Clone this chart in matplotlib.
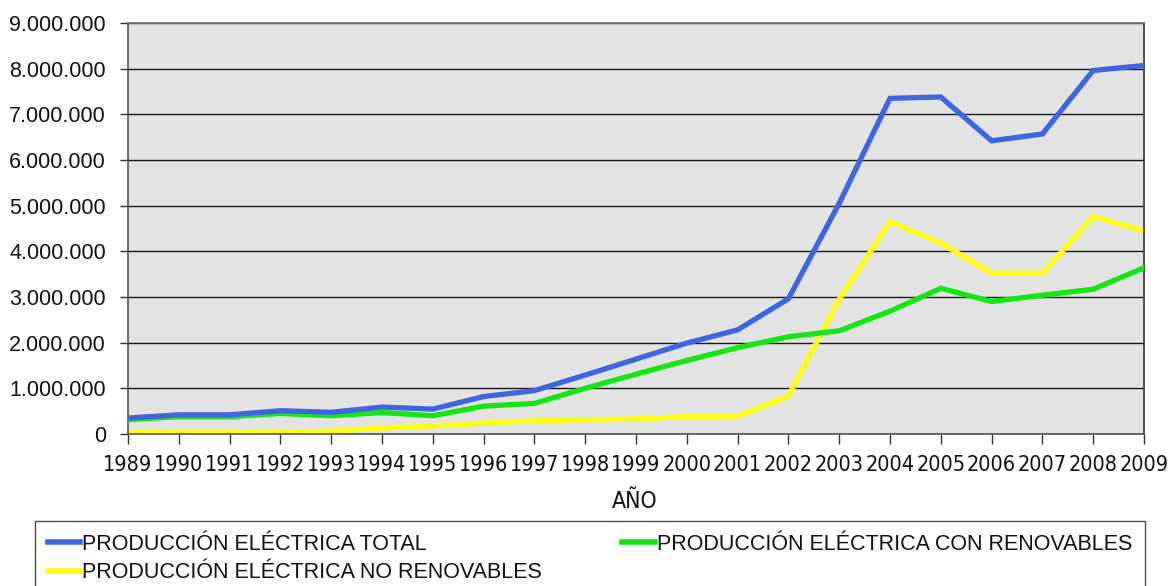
import matplotlib
matplotlib.use("Agg")
import matplotlib.pyplot as plt
from matplotlib import font_manager
from matplotlib.font_manager import FontProperties
from matplotlib.ticker import FuncFormatter, MultipleLocator

years = list(range(1989, 2010))

produccion_total = [350000, 420000, 420000, 510000, 475000, 590000, 545000,
                    820000, 950000, 1290000, 1640000, 1990000, 2280000, 2960000,
                    5050000, 7350000, 7380000, 6420000, 6570000, 7960000, 8070000]

produccion_renovables = [315000, 380000, 380000, 450000, 400000, 470000, 400000,
                         610000, 670000, 1000000, 1310000, 1610000, 1890000, 2130000,
                         2260000, 2690000, 3190000, 2900000, 3040000, 3170000, 3640000]

produccion_no_renovables = [30000, 30000, 30000, 40000, 60000, 130000, 175000,
                            240000, 290000, 310000, 330000, 380000, 390000, 830000,
                            2950000, 4650000, 4180000, 3520000, 3520000, 4760000, 4450000]

series_labels = ["PRODUCCIÓN ELÉCTRICA TOTAL",
                 "PRODUCCIÓN ELÉCTRICA CON RENOVABLES",
                 "PRODUCCIÓN ELÉCTRICA NO RENOVABLES"]
series_colors = ["#3F66E0", "#14E614", "#FFFF14"]

x_label = "AÑO"

REG = ["Liberation Sans", "DejaVu Sans"]


def narrow_font(size_narrow, size_cond, size_reg):
    """Pick a narrow sans face for the year labels, if one is installed."""
    fonts = font_manager.fontManager.ttflist
    for f in fonts:
        if f.name == "Liberation Sans Narrow" and "bold" not in f.fname.lower() \
                and "italic" not in f.fname.lower():
            return FontProperties(fname=f.fname, size=size_narrow)
    for f in fonts:
        fn = f.fname.lower()
        if "dejavusanscondensed.ttf" in fn:
            return FontProperties(fname=f.fname, size=size_cond)
    return FontProperties(family=REG, size=size_reg)


year_font = narrow_font(17, 15.5, 14.2)
title_font = narrow_font(17, 16.5, 15)

W, H = 1168, 586
fig = plt.figure(figsize=(W / 100, H / 100), dpi=100)
fig.patch.set_facecolor("white")

left, right, top, bottom = 128, 1144, 23, 434
ax = fig.add_axes([left / W, 1 - bottom / H, (right - left) / W, (bottom - top) / H])
ax.set_facecolor("#E3E3E3")

h_total, = ax.plot(years, produccion_total, color=series_colors[0], lw=3.8,
                   solid_joinstyle="miter", zorder=4)
h_ren, = ax.plot(years, produccion_renovables, color=series_colors[1], lw=3.8,
                 solid_joinstyle="miter", zorder=3)
h_nor, = ax.plot(years, produccion_no_renovables, color=series_colors[2], lw=3.8,
                 solid_joinstyle="miter", zorder=2)

ax.set_xlim(1989, 2009)
ax.set_ylim(0, 9000000)
ax.yaxis.set_major_locator(MultipleLocator(1000000))
ax.set_xticks(years)
ax.set_xticklabels([str(y) for y in years], fontproperties=year_font)
ax.yaxis.set_major_formatter(FuncFormatter(lambda v, p: f"{int(v):,}".replace(",", ".")))
for lab in ax.get_yticklabels():
    lab.set_family(REG)
    lab.set_fontsize(15.5)

ax.grid(axis="y", color="#1a1a1a", lw=1.0, zorder=1)
ax.set_axisbelow(True)
ax.tick_params(axis="x", direction="out", length=7, width=1, color="#333333", pad=8,
               labelcolor="#111111")
ax.tick_params(axis="y", direction="out", length=6, width=1, color="#333333", pad=10,
               labelcolor="#111111")

ax.spines["left"].set_color("#555555")
ax.spines["bottom"].set_color("#555555")
ax.spines["top"].set_color("#777777")
ax.spines["right"].set_color("#333333")
for s in ax.spines.values():
    s.set_linewidth(1.2)

fig.text(635 / W, 1 - 502 / H, x_label, ha="center", va="center",
         fontproperties=title_font, color="#111111")

# column-wise fill: left column TOTAL / NO RENOVABLES, right column CON RENOVABLES
leg = fig.legend([h_total, h_nor, h_ren],
                 [series_labels[0], series_labels[2], series_labels[1]], ncol=2,
                 loc="upper left", mode="expand",
                 bbox_to_anchor=(35 / W, 1 - 521 / H, (1145 - 35) / W, 0.0),
                 prop={"family": REG, "size": 15.5},
                 frameon=True, fancybox=False, edgecolor="#222222",
                 handlelength=1.5, handletextpad=0.1, labelspacing=0.35,
                 borderpad=0.6, borderaxespad=0.0)
leg.get_frame().set_linewidth(1.0)
for line in leg.get_lines():
    line.set_linewidth(4)
for t in leg.get_texts():
    t.set_color("#111111")

fig.savefig("out.png", dpi=100, facecolor="white")
